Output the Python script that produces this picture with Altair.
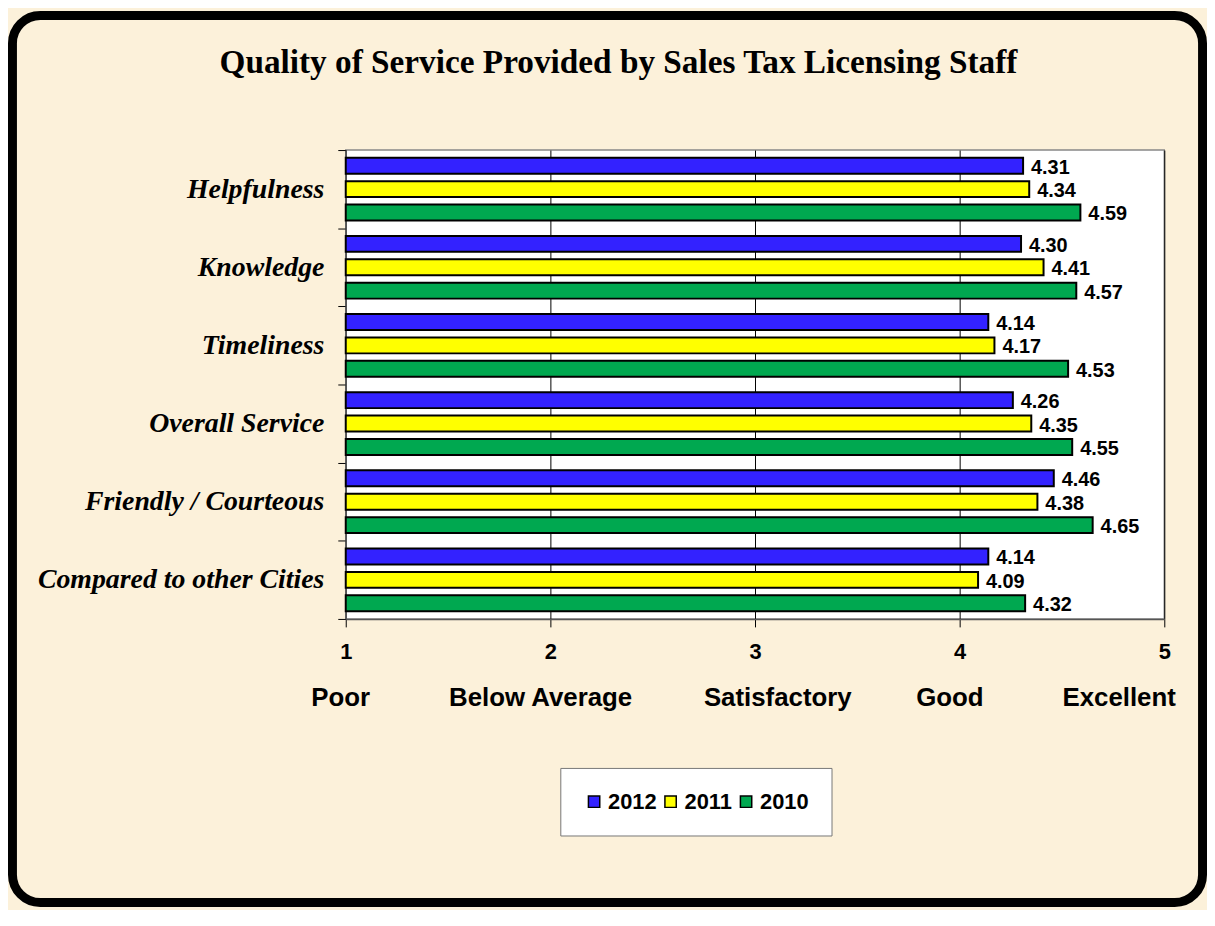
import altair as alt
import pandas as pd

categories = ["Helpfulness", "Knowledge", "Timeliness", "Overall Service",
              "Friendly / Courteous", "Compared to other Cities"]
years = ["2012", "2011", "2010"]
scores_2012 = [4.31, 4.30, 4.14, 4.26, 4.46, 4.14]
scores_2011 = [4.34, 4.41, 4.17, 4.35, 4.38, 4.09]
scores_2010 = [4.59, 4.57, 4.53, 4.55, 4.65, 4.32]
colors = ["#3322FF", "#FFFF00", "#00A850"]
tick_values = [1, 2, 3, 4, 5]
nb = "\u00a0"
rating_words = ["Poor", "Below Average", "Satisfactory", "Good", "Excellent"]
gaps = [11, 10, 9, 11]
x_title = rating_words[0]
for g, w in zip(gaps, rating_words[1:]):
    x_title += nb * g + w

rows = []
for yr, vals in zip(years, [scores_2012, scores_2011, scores_2010]):
    for c, v in zip(categories, vals):
        rows.append({"category": c, "year": yr, "score": v})
df = pd.DataFrame(rows)

SANS = "Liberation Sans"
SERIF = "Liberation Serif"

x_scale = alt.Scale(domain=[1, 5], zero=False, nice=False)
y_enc = alt.Y("category:N", sort=categories,
              scale=alt.Scale(paddingInner=0, paddingOuter=0),
              axis=alt.Axis(title=None, tickBand="extent", tickSize=8, tickColor="black",
                            domainColor="#555555", domainWidth=1.5, grid=False,
                            labelFont=SERIF, labelFontSize=28, labelFontWeight="bold",
                            labelFontStyle="italic", labelColor="black", labelPadding=14,
                            labelLimit=500))
yoff_enc = alt.YOffset("year:N", sort=years,
                       scale=alt.Scale(domain=years, paddingInner=0.32, paddingOuter=0.33))

x_enc = alt.X("score:Q", scale=x_scale,
              axis=alt.Axis(values=tick_values, format="d", title=x_title,
                            grid=True, gridColor="black", gridWidth=1,
                            tickColor="black", tickSize=8, domainColor="#555555",
                            domainWidth=1.5, labelFlush=False,
                            labelFont=SANS, labelFontSize=22, labelFontWeight="bold",
                            labelColor="black", labelPadding=15,
                            titleFont=SANS, titleFontSize=26, titleFontWeight="bold",
                            titleColor="black", titlePadding=22, titleX=400,
                            titleAlign="center"))

frame = alt.Chart(pd.DataFrame({"f": [0]})).mark_rect(
    fill="transparent", stroke="black", strokeWidth=9, cornerRadius=28, clip=False
).encode(x=alt.value(-335.5), x2=alt.value(862.5), y=alt.value(-135.5), y2=alt.value(757.5))

bars = alt.Chart(df).mark_bar(stroke="black", strokeWidth=2).encode(
    x=x_enc,
    x2=alt.datum(1),
    y=y_enc,
    yOffset=yoff_enc,
    color=alt.Color("year:N", sort=years, scale=alt.Scale(domain=years, range=colors),
                    legend=alt.Legend(title=None, orient="none", legendX=216, legendY=622,
                                      direction="horizontal", fillColor="white",
                                      strokeColor="#777777", padding=23,
                                      symbolType="square", symbolSize=130,
                                      symbolStrokeColor="black", symbolStrokeWidth=1.5,
                                      symbolOpacity=1,
                                      labelFont=SANS, labelFontSize=22, labelFontWeight="bold",
                                      labelColor="black", labelOffset=3, columnPadding=3)),
)

labels = alt.Chart(df).mark_text(
    align="left", baseline="middle", dx=8, dy=2, font=SANS, fontSize=20,
    fontWeight="bold", color="black"
).encode(
    x=alt.X("score:Q", scale=x_scale),
    y=alt.Y("category:N", sort=categories),
    yOffset=yoff_enc,
    text=alt.Text("score:Q", format=".2f"),
)

chart = alt.layer(frame, bars, labels).properties(
    width=824, height=472,
    padding={"left": 340, "top": 140, "right": 43, "bottom": 290},
    autosize=alt.AutoSizeParams(type="none"),
    background="#FCF1DA",
    title=alt.TitleParams("Quality of Service Provided by Sales Tax Licensing Staff",
                          font=SERIF, fontSize=33.5, fontWeight="bold", color="black",
                          anchor="middle", frame="bounds", baseline="alphabetic",
                          offset=-96, dx=11),
).configure_view(fill="white", stroke="#888888", strokeWidth=1.5)

chart.save("out.html", embed_options={"renderer": "svg", "actions": False})
